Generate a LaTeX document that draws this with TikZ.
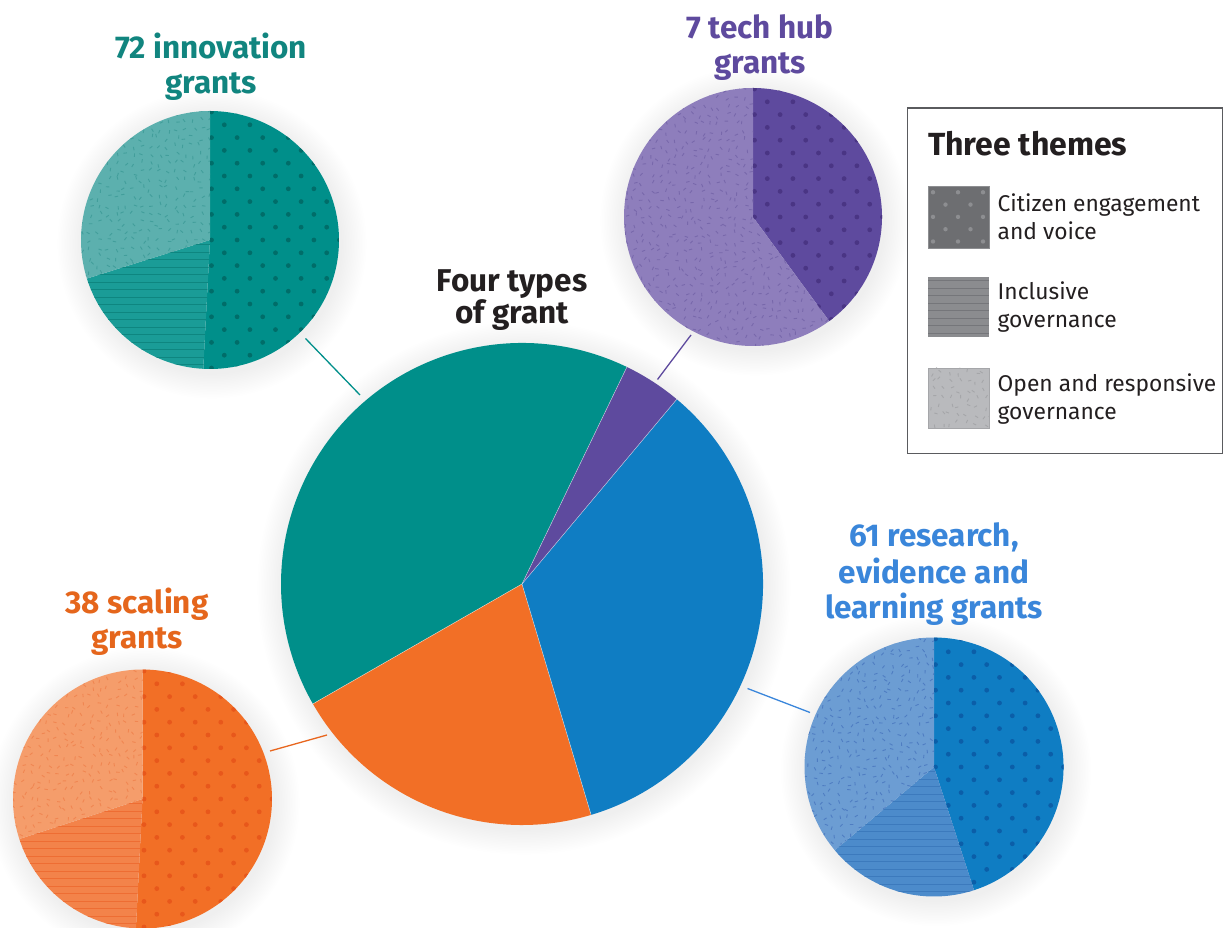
\documentclass[tikz,border=0pt]{standalone}
\usepackage{fontspec}
\setmainfont{Fira Sans}
\definecolor{mTeal}{HTML}{008F8A}
\definecolor{mPurple}{HTML}{5E4A9E}
\definecolor{mBlue}{HTML}{0F7DC3}
\definecolor{mOrange}{HTML}{F26F26}
\definecolor{tDotFg}{HTML}{006D69}
\definecolor{tLinBg}{HTML}{1A9C97}
\definecolor{tLinFg}{HTML}{0E8680}
\definecolor{tSpkBg}{HTML}{5CB0AE}
\definecolor{tSpkFg}{HTML}{429E9B}
\definecolor{pDotFg}{HTML}{4A3584}
\definecolor{pSpkBg}{HTML}{8E7EBC}
\definecolor{pSpkFg}{HTML}{7868AB}
\definecolor{bDotFg}{HTML}{0B5EA8}
\definecolor{bLinBg}{HTML}{4C8BCB}
\definecolor{bLinFg}{HTML}{3C7ABD}
\definecolor{bSpkBg}{HTML}{6C9DD3}
\definecolor{bSpkFg}{HTML}{4F7DC2}
\definecolor{oDotFg}{HTML}{E8571B}
\definecolor{oLinBg}{HTML}{F3834A}
\definecolor{oLinFg}{HTML}{EE6D33}
\definecolor{oSpkBg}{HTML}{F59D6B}
\definecolor{oSpkFg}{HTML}{F08652}
\definecolor{txTeal}{HTML}{11857F}
\definecolor{txPurple}{HTML}{5E4A9E}
\definecolor{txBlue}{HTML}{3A86DA}
\definecolor{txOrange}{HTML}{E5661C}
\definecolor{txDark}{HTML}{231F20}
\definecolor{lnBlue}{HTML}{3A86DB}
\definecolor{lnOrange}{HTML}{E8661E}
\definecolor{sw1}{HTML}{6D6E71}
\definecolor{sw1d}{HTML}{8D8E91}
\definecolor{sw2}{HTML}{8B8C8F}
\definecolor{sw2l}{HTML}{75767A}
\definecolor{sw3}{HTML}{B9BABD}
\definecolor{sw3s}{HTML}{A5A6A9}
\definecolor{boxline}{HTML}{5A5B5E}
\newcommand\wpath[4]{(#1) -- ++(#2:#4) arc[start angle=#2, end angle=#3, radius=#4] -- cycle}
\newcommand\dotgrid[2]{%
  \foreach \j in {-11,...,11}{\foreach \i in {-6,...,6}{%
    \pgfmathsetmacro\dx{\i*25.6+1.5+12.8*mod(\j+30,2)}%
    \pgfmathsetmacro\dy{\j*12.8}%
    \fill[#2] (#1) ++(\dx,\dy) circle[radius=2.4];}}}
\newcommand\linegrid[2]{%
  \foreach \k in {-18,...,18}{\draw[#2, line width=0.8] (#1) ++(-135,\k*7.5+3) -- ++(270,0);}}
\newcommand\speck[6]{%
  \foreach \i in {#2,...,#3}{\foreach \j in {#4,...,#5}{%
    \pgfmathsetmacro\ox{\i*8.5+3*rand}%
    \pgfmathsetmacro\oy{\j*8.5+3*rand}%
    \pgfmathsetmacro\ang{180*rnd}%
    \draw[#6, line width=0.9] (#1) ++(\ox,\oy) ++(\ang:1.7) -- ++(\ang+180:3.4);}}}
\newcommand\softshadow[2]{%
  \foreach \k in {1,...,16}{\pgfmathsetmacro\rr{#2+\k*1.6}%
    \fill[black, opacity=0.0055] (#1) ++(2,-4) circle[radius=\rr];}}
\tikzset{
  lbl/.style={font=\bfseries\fontsize{31.5}{36}\selectfont, anchor=base, inner sep=0},
  leg/.style={font=\fontsize{22.8}{28}\selectfont, anchor=base west, inner sep=0, text=txDark},
  conn/.style={line width=1.3},
  sep/.style={draw=white, line width=0.5, draw opacity=0.6},
}
\begin{document}
\begin{tikzpicture}[x=1pt,y=1pt]
\pgfmathsetseed{42}
\useasboundingbox (0,0) rectangle (1223,927);
\fill[white] (0,0) rectangle (1223,927);
% centres
\coordinate (M) at (522,343);
\coordinate (T) at (210,687);
\coordinate (P) at (753,710);
\coordinate (O) at (142.5,128);
\coordinate (B) at (934,160);
% shadows
\softshadow{M}{241}
\softshadow{T}{129}
\softshadow{P}{129}
\softshadow{O}{129.5}
\softshadow{B}{129.5}
% main pie
\fill[mTeal] \wpath{M}{64.2}{209.82}{241};
\fill[mOrange] \wpath{M}{209.82}{286.67}{241};
\fill[mBlue] \wpath{M}{286.67}{410.04}{241};
\fill[mPurple] \wpath{M}{410.04}{424.2}{241};
\foreach \a in {64.2,209.82,286.67,50.04}{\draw[sep] (M) -- ++(\a:241);}
% teal pie
\fill[mTeal] \wpath{T}{-93}{90}{129};
\fill[tLinBg] \wpath{T}{197.4}{267}{129};
\fill[tSpkBg] \wpath{T}{90}{197.4}{129};
\begin{scope}\clip \wpath{T}{-93}{90}{129}; \dotgrid{T}{tDotFg}\end{scope}
\begin{scope}\clip \wpath{T}{197.4}{267}{129}; \linegrid{T}{tLinFg}\end{scope}
\begin{scope}\clip \wpath{T}{90}{197.4}{129}; \speck{T}{-16}{0}{-6}{16}{tSpkFg}\end{scope}
% purple pie
\fill[mPurple] \wpath{P}{-53.8}{90}{129};
\fill[pSpkBg] \wpath{P}{90}{306.2}{129};
\begin{scope}\clip \wpath{P}{-53.8}{90}{129}; \dotgrid{P}{pDotFg}\end{scope}
\begin{scope}\clip \wpath{P}{90}{306.2}{129}; \speck{P}{-16}{16}{-16}{16}{pSpkFg}\end{scope}
% orange pie
\fill[mOrange] \wpath{O}{-92.9}{90}{129.5};
\fill[oLinBg] \wpath{O}{198}{267.1}{129.5};
\fill[oSpkBg] \wpath{O}{90}{198}{129.5};
\begin{scope}\clip \wpath{O}{-92.9}{90}{129.5}; \dotgrid{O}{oDotFg}\end{scope}
\begin{scope}\clip \wpath{O}{198}{267.1}{129.5}; \linegrid{O}{oLinFg}\end{scope}
\begin{scope}\clip \wpath{O}{90}{198}{129.5}; \speck{O}{-16}{0}{-6}{16}{oSpkFg}\end{scope}
% blue pie
\fill[mBlue] \wpath{B}{-72}{90}{129.5};
\fill[bLinBg] \wpath{B}{220}{288}{129.5};
\fill[bSpkBg] \wpath{B}{90}{220}{129.5};
\begin{scope}\clip \wpath{B}{-72}{90}{129.5}; \dotgrid{B}{bDotFg}\end{scope}
\begin{scope}\clip \wpath{B}{220}{288}{129.5}; \linegrid{B}{bLinFg}\end{scope}
\begin{scope}\clip \wpath{B}{90}{220}{129.5}; \speck{B}{-16}{0}{-11}{16}{bSpkFg}\end{scope}
% connectors
\coordinate (tc1) at (305.5,588.5); \coordinate (tc2) at (360,532);
\coordinate (pc1) at (691,592);     \coordinate (pc2) at (657.5,547.5);
\coordinate (bc1) at (747.5,238.5); \coordinate (bc2) at (810,214.5);
\coordinate (oc1) at (270,176);     \coordinate (oc2) at (327,192);
\draw[conn, mTeal] (tc1) -- (tc2);
\draw[conn, mPurple] (pc1) -- (pc2);
\draw[conn, lnBlue] (bc1) -- (bc2);
\draw[conn, lnOrange] (oc1) -- (oc2);
% labels
\node[lbl, text=txTeal] (l72a) at (211,868.7) {72 innovation};
\node[lbl, text=txTeal] (l72b) at (211,833.5) {grants};
\node[lbl, text=txPurple] (l7a) at (760,888.7) {7 tech hub};
\node[lbl, text=txPurple] (l7b) at (760,853.7) {grants};
\node[lbl, text=txDark] (l4a) at (512,635.3) {Four types};
\node[lbl, text=txDark] (l4b) at (512,603) {of grant};
\node[lbl, text=txBlue] (l61a) at (934,380.3) {61 research,};
\node[lbl, text=txBlue] (l61b) at (934,343.7) {evidence and};
\node[lbl, text=txBlue] (l61c) at (934,308.7) {learning grants};
\node[lbl, text=txOrange] (l38a) at (137,313.7) {38 scaling};
\node[lbl, text=txOrange] (l38b) at (137,278.7) {grants};
% legend
\draw[boxline, line width=1.2] (907.5,819) rectangle (1222.4,473.5);
\node[leg, font=\bfseries\fontsize{32}{36}\selectfont] (ltitle) at (928,771.3) {Three themes};
\fill[sw1] (928,741) rectangle (989,679);
\begin{scope}\clip (928,741) rectangle (989,679);
  \foreach \j in {0,...,4}{\foreach \i in {0,...,2}{%
    \pgfmathsetmacro\dx{928+5+\i*25+12.5*mod(\j,2)}%
    \pgfmathsetmacro\dy{734.7-\j*12.3}%
    \fill[sw1d] (\dx,\dy) circle[radius=2.2];}}
\end{scope}
\draw[sw1d, line width=0.6] (928,741) rectangle (989,679);
\fill[sw2] (928,650) rectangle (989,589.5);
\foreach \k in {0,...,7}{\draw[sw2l, line width=0.8] (928,646.3-\k*7.5) -- (989,646.3-\k*7.5);}
\fill[sw3] (928,559) rectangle (989,499);
\coordinate (S3) at (958.5,529);
\begin{scope}\clip (928,559) rectangle (989,499); \speck{S3}{-4}{4}{-4}{4}{sw3s}\end{scope}
\draw[sw3s, line width=0.6] (928,559) rectangle (989,499);
\node[leg] (c1a) at (997.5,715) {Citizen engagement};
\node[leg] (c1b) at (997.5,687) {and voice};
\node[leg] (c2a) at (997.5,627) {Inclusive};
\node[leg] (c2b) at (997.5,599.3) {governance};
\node[leg] (c3a) at (997.5,535.3) {Open and responsive};
\node[leg] (c3b) at (997.5,507) {governance};
\end{tikzpicture}
\end{document}
